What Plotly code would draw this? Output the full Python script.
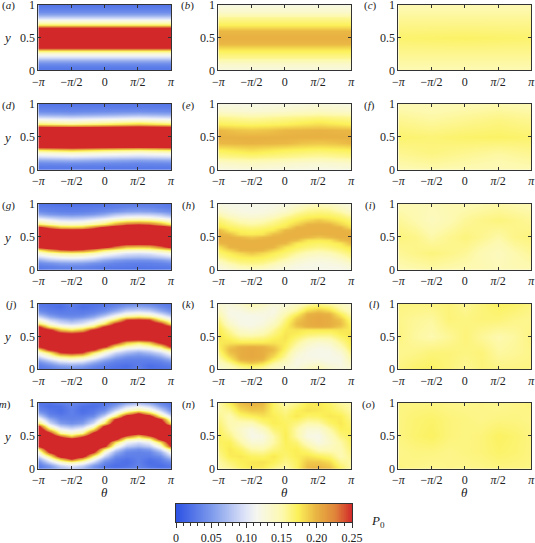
import numpy as np
import plotly.graph_objects as go

# --- Grids ---
THETA_13 = [k * np.pi / 6 for k in range(-6, 7)]
THETA_9 = [k * np.pi / 4 for k in range(-4, 5)]
THETA_3 = [-np.pi, 0, np.pi]
Y_21 = [k / 20 for k in range(21)]
Y_11 = [k / 10 for k in range(11)]
Y_5 = [0, 0.25, 0.5, 0.75, 1]

TICK_THETA = [-np.pi, -np.pi / 2, 0, np.pi / 2, np.pi]
TICK_THETA_TEXT = ['\u2212<i>\u03c0</i>', '\u2212<i>\u03c0</i>/2', '0', '<i>\u03c0</i>/2', '<i>\u03c0</i>']
TICK_Y = [0, 0.5, 1]
TICK_Y_TEXT = ['0', '0.5', '1']
BAR_TICKS = [0, 0.05, 0.10, 0.15, 0.20, 0.25]
BAR_TICK_TEXT = ['0', '0.05', '0.10', '0.15', '0.20', '0.25']

# --- P0 values, one list per theta column, y going up ---
P_A = [
    [.025,.03,.04,.06,.09,.125,.17,.26,.30,.31,.31,.31,.30,.26,.17,.125,.09,.06,.04,.03,.025],
    [.025,.03,.04,.06,.09,.125,.17,.26,.30,.31,.31,.31,.30,.26,.17,.125,.09,.06,.04,.03,.025],
    [.025,.03,.04,.06,.09,.125,.17,.26,.30,.31,.31,.31,.30,.26,.17,.125,.09,.06,.04,.03,.025],
]
P_D = [
    [.025,.03,.04,.06,.09,.125,.17,.26,.30,.31,.31,.31,.30,.26,.17,.125,.09,.06,.04,.03,.025],
    [.027,.03,.042,.066,.097,.132,.188,.268,.302,.31,.31,.31,.295,.25,.16,.118,.085,.055,.037,.03,.024],
    [.025,.03,.04,.06,.09,.125,.17,.26,.30,.31,.31,.31,.30,.26,.17,.125,.09,.06,.04,.03,.025],
    [.024,.03,.037,.055,.085,.118,.16,.25,.295,.31,.31,.31,.302,.268,.188,.132,.097,.066,.042,.03,.027],
    [.025,.03,.04,.06,.09,.125,.17,.26,.30,.31,.31,.31,.30,.26,.17,.125,.09,.06,.04,.03,.025],
]
P_G = [
    [.025,.03,.04,.06,.09,.125,.17,.26,.30,.31,.31,.31,.30,.26,.17,.125,.09,.06,.04,.03,.025],
    [.029,.033,.046,.076,.104,.145,.206,.284,.304,.31,.31,.306,.284,.224,.152,.112,.08,.05,.035,.029,.023],
    [.03,.037,.053,.083,.114,.157,.233,.288,.308,.31,.31,.303,.272,.193,.138,.1,.073,.045,.032,.028,.021],
    [.03,.038,.055,.085,.118,.161,.242,.292,.308,.31,.31,.304,.27,.188,.135,.097,.07,.043,.031,.027,.021],
    [.03,.037,.053,.083,.114,.157,.233,.288,.308,.31,.31,.303,.272,.193,.138,.1,.073,.045,.032,.028,.021],
    [.029,.033,.046,.076,.104,.145,.206,.284,.304,.31,.31,.306,.284,.224,.152,.112,.08,.05,.035,.029,.023],
    [.025,.03,.04,.06,.09,.125,.17,.26,.30,.31,.31,.31,.30,.26,.17,.125,.09,.06,.04,.03,.025],
    [.023,.029,.035,.05,.08,.112,.152,.224,.284,.306,.31,.31,.304,.284,.206,.145,.104,.076,.046,.033,.029],
    [.021,.028,.032,.045,.073,.1,.138,.193,.272,.303,.31,.31,.308,.288,.233,.157,.114,.083,.053,.037,.03],
    [.021,.027,.031,.043,.07,.097,.135,.188,.27,.304,.31,.31,.308,.292,.242,.161,.118,.085,.055,.038,.03],
    [.021,.028,.032,.045,.073,.1,.138,.193,.272,.303,.31,.31,.308,.288,.233,.157,.114,.083,.053,.037,.03],
    [.023,.029,.035,.05,.08,.112,.152,.224,.284,.306,.31,.31,.304,.284,.206,.145,.104,.076,.046,.033,.029],
    [.025,.03,.04,.06,.09,.125,.17,.26,.30,.31,.31,.31,.30,.26,.17,.125,.09,.06,.04,.03,.025],
]
P_J = [
    [.025,.03,.04,.06,.09,.125,.17,.26,.30,.31,.31,.31,.30,.26,.17,.125,.09,.06,.04,.03,.025],
    [.03,.04,.06,.09,.125,.17,.26,.30,.31,.31,.31,.30,.26,.17,.125,.09,.06,.04,.03,.025,.022],
    [.037,.054,.084,.116,.158,.245,.29,.31,.31,.31,.303,.27,.193,.138,.099,.072,.044,.032,.027,.02,.022],
    [.04,.06,.09,.125,.17,.26,.30,.31,.31,.31,.30,.26,.17,.125,.09,.06,.04,.032,.03,.03,.033],
    [.037,.054,.084,.116,.158,.245,.29,.31,.31,.31,.303,.27,.193,.138,.099,.072,.044,.032,.027,.02,.022],
    [.03,.04,.06,.09,.125,.17,.26,.30,.31,.31,.31,.30,.26,.17,.125,.09,.06,.04,.03,.025,.022],
    [.025,.03,.04,.06,.09,.125,.17,.26,.30,.31,.31,.31,.30,.26,.17,.125,.09,.06,.04,.03,.025],
    [.022,.025,.03,.04,.06,.09,.125,.17,.26,.30,.31,.31,.31,.30,.26,.17,.125,.09,.06,.04,.03],
    [.022,.02,.027,.032,.044,.072,.099,.138,.193,.27,.303,.31,.31,.31,.29,.245,.158,.116,.084,.054,.037],
    [.033,.03,.03,.032,.04,.06,.09,.125,.17,.26,.30,.31,.31,.31,.30,.26,.17,.125,.09,.06,.04],
    [.022,.02,.027,.032,.044,.072,.099,.138,.193,.27,.303,.31,.31,.31,.29,.245,.158,.116,.084,.054,.037],
    [.022,.025,.03,.04,.06,.09,.125,.17,.26,.30,.31,.31,.31,.30,.26,.17,.125,.09,.06,.04,.03],
    [.025,.03,.04,.06,.09,.125,.17,.26,.30,.31,.31,.31,.30,.26,.17,.125,.09,.06,.04,.03,.025],
]
P_M = [
    [.025,.03,.04,.06,.09,.125,.17,.26,.30,.31,.31,.31,.30,.26,.17,.125,.09,.06,.04,.03,.025],
    [.037,.055,.088,.12,.165,.255,.297,.31,.31,.31,.30,.264,.18,.128,.093,.065,.042,.03,.026,.02,.024],
    [.06,.092,.13,.19,.275,.305,.31,.31,.31,.29,.235,.157,.112,.083,.053,.037,.03,.023,.02,.022,.03],
    [.075,.108,.155,.245,.295,.31,.31,.31,.303,.27,.188,.135,.097,.07,.043,.034,.032,.032,.032,.034,.036],
    [.06,.092,.13,.19,.275,.305,.31,.31,.31,.29,.235,.157,.112,.083,.053,.037,.03,.023,.02,.022,.03],
    [.037,.055,.088,.12,.165,.255,.297,.31,.31,.31,.30,.264,.18,.128,.093,.065,.042,.03,.026,.02,.024],
    [.025,.03,.04,.06,.09,.125,.17,.26,.30,.31,.31,.31,.30,.26,.17,.125,.09,.06,.04,.03,.025],
    [.024,.02,.026,.03,.042,.065,.093,.128,.18,.264,.30,.31,.31,.31,.297,.255,.165,.12,.088,.055,.037],
    [.03,.022,.02,.023,.03,.037,.053,.083,.112,.157,.235,.29,.31,.31,.31,.305,.275,.19,.13,.092,.06],
    [.036,.034,.032,.032,.032,.034,.043,.07,.097,.135,.188,.27,.303,.31,.31,.31,.295,.245,.155,.108,.075],
    [.03,.022,.02,.023,.03,.037,.053,.083,.112,.157,.235,.29,.31,.31,.31,.305,.275,.19,.13,.092,.06],
    [.024,.02,.026,.03,.042,.065,.093,.128,.18,.264,.30,.31,.31,.31,.297,.255,.165,.12,.088,.055,.037],
    [.025,.03,.04,.06,.09,.125,.17,.26,.30,.31,.31,.31,.30,.26,.17,.125,.09,.06,.04,.03,.025],
]

P_B = [
    [.122,.135,.158,.172,.197,.2,.197,.172,.158,.135,.122],
    [.122,.135,.158,.172,.197,.2,.197,.172,.158,.135,.122],
    [.122,.135,.158,.172,.197,.2,.197,.172,.158,.135,.122],
]
P_E = [
    [.122,.135,.158,.172,.197,.2,.197,.172,.158,.135,.122],
    [.124,.138,.16,.176,.198,.2,.192,.17,.155,.132,.121],
    [.126,.14,.162,.18,.199,.2,.19,.168,.153,.13,.12],
    [.124,.138,.16,.176,.198,.2,.192,.17,.155,.132,.121],
    [.122,.135,.158,.172,.197,.2,.197,.172,.158,.135,.122],
    [.121,.132,.155,.17,.192,.2,.198,.176,.16,.138,.124],
    [.12,.13,.153,.168,.19,.2,.199,.18,.162,.14,.126],
    [.121,.132,.155,.17,.192,.2,.198,.176,.16,.138,.124],
    [.122,.135,.158,.172,.197,.2,.197,.172,.158,.135,.122],
]
P_H = [
    [.122,.128,.135,.147,.158,.165,.172,.178,.197,.2,.2,.2,.197,.178,.172,.165,.158,.147,.135,.128,.122],
    [.13,.138,.15,.16,.167,.174,.184,.198,.2,.2,.2,.194,.176,.17,.163,.155,.144,.133,.127,.121,.119],
    [.137,.149,.159,.166,.173,.182,.198,.2,.2,.2,.196,.177,.171,.164,.156,.145,.134,.127,.122,.119,.118],
    [.141,.152,.161,.168,.175,.19,.199,.2,.2,.199,.19,.175,.168,.161,.152,.141,.131,.125,.12,.118,.118],
    [.137,.149,.159,.166,.173,.182,.198,.2,.2,.2,.196,.177,.171,.164,.156,.145,.134,.127,.122,.119,.118],
    [.13,.138,.15,.16,.167,.174,.184,.198,.2,.2,.2,.194,.176,.17,.163,.155,.144,.133,.127,.121,.119],
    [.122,.128,.135,.147,.158,.165,.172,.178,.197,.2,.2,.2,.197,.178,.172,.165,.158,.147,.135,.128,.122],
    [.119,.121,.127,.133,.144,.155,.163,.17,.176,.194,.2,.2,.2,.198,.184,.174,.167,.16,.15,.138,.13],
    [.118,.119,.122,.127,.134,.145,.156,.164,.171,.177,.196,.2,.2,.2,.198,.182,.173,.166,.159,.149,.137],
    [.118,.118,.12,.125,.131,.141,.152,.161,.168,.175,.19,.199,.2,.2,.199,.19,.175,.168,.161,.152,.141],
    [.118,.119,.122,.127,.134,.145,.156,.164,.171,.177,.196,.2,.2,.2,.198,.182,.173,.166,.159,.149,.137],
    [.119,.121,.127,.133,.144,.155,.163,.17,.176,.194,.2,.2,.2,.198,.184,.174,.167,.16,.15,.138,.13],
    [.122,.128,.135,.147,.158,.165,.172,.178,.197,.2,.2,.2,.197,.178,.172,.165,.158,.147,.135,.128,.122],
]
P_K = [
    [.128,.134,.14,.148,.155,.162,.168,.172,.175,.177,.178,.177,.175,.172,.168,.162,.155,.148,.14,.134,.128],
    [.14,.148,.158,.172,.182,.192,.195,.19,.178,.174,.168,.162,.155,.146,.136,.128,.122,.12,.12,.122,.125],
    [.15,.165,.182,.198,.202,.202,.202,.2,.176,.165,.155,.145,.135,.126,.12,.118,.118,.118,.122,.128,.135],
    [.158,.172,.192,.202,.205,.205,.205,.202,.176,.165,.155,.142,.13,.122,.118,.118,.118,.122,.13,.14,.15],
    [.15,.165,.182,.198,.202,.202,.202,.2,.176,.167,.158,.148,.138,.13,.124,.12,.12,.122,.126,.133,.14],
    [.135,.146,.156,.17,.182,.19,.195,.19,.178,.174,.168,.162,.156,.148,.14,.132,.126,.122,.12,.122,.128],
    [.125,.132,.14,.148,.155,.162,.168,.172,.175,.177,.178,.177,.175,.172,.168,.162,.155,.148,.14,.132,.125],
    [.128,.122,.12,.122,.126,.132,.14,.148,.156,.162,.168,.174,.178,.19,.195,.19,.182,.17,.156,.146,.135],
    [.14,.133,.126,.122,.12,.12,.124,.13,.138,.148,.158,.167,.176,.2,.202,.202,.202,.198,.182,.165,.15],
    [.15,.14,.13,.122,.118,.118,.118,.122,.13,.142,.155,.165,.176,.202,.205,.205,.205,.202,.192,.172,.158],
    [.135,.128,.122,.118,.118,.118,.12,.126,.135,.145,.155,.165,.176,.2,.202,.202,.202,.198,.182,.165,.15],
    [.125,.122,.12,.12,.122,.128,.136,.146,.155,.162,.168,.174,.178,.19,.195,.192,.182,.172,.158,.148,.14],
    [.128,.134,.14,.148,.155,.162,.168,.172,.175,.177,.178,.177,.175,.172,.168,.162,.155,.148,.14,.134,.128],
]
P_N = [
    [.15,.152,.158,.165,.17,.172,.17,.165,.158,.152,.15],
    [.155,.164,.174,.176,.172,.162,.152,.148,.148,.158,.172],
    [.168,.172,.176,.168,.152,.14,.135,.145,.165,.182,.195],
    [.176,.176,.17,.152,.13,.118,.122,.145,.172,.19,.2],
    [.174,.178,.168,.15,.13,.122,.14,.162,.178,.19,.197],
    [.16,.172,.176,.162,.152,.152,.165,.174,.174,.17,.17],
    [.15,.16,.166,.17,.172,.174,.172,.17,.166,.16,.15],
    [.17,.17,.174,.174,.165,.152,.152,.162,.176,.172,.16],
    [.197,.19,.178,.162,.14,.122,.13,.15,.168,.178,.174],
    [.2,.19,.172,.145,.122,.118,.13,.152,.17,.176,.176],
    [.195,.182,.165,.145,.135,.14,.152,.168,.176,.172,.168],
    [.172,.158,.148,.148,.152,.162,.172,.176,.174,.164,.155],
    [.15,.152,.158,.165,.17,.172,.17,.165,.158,.152,.15],
]

P_C = [
    [.148,.158,.167,.158,.148],
    [.148,.158,.169,.158,.148],
    [.148,.158,.167,.158,.148],
]
P_F = [
    [.148,.158,.167,.158,.148],
    [.15,.162,.165,.154,.146],
    [.148,.158,.168,.158,.148],
    [.146,.154,.169,.162,.15],
    [.148,.158,.167,.158,.148],
]
P_I = [
    [.148,.156,.163,.156,.148],
    [.15,.16,.16,.15,.147],
    [.152,.163,.152,.142,.145],
    [.15,.16,.158,.148,.148],
    [.148,.156,.163,.156,.148],
    [.148,.148,.158,.16,.15],
    [.145,.142,.152,.163,.152],
    [.147,.15,.16,.16,.15],
    [.148,.156,.163,.156,.148],
]
P_L = [
    [.162,.158,.162,.16,.162],
    [.168,.16,.154,.156,.162],
    [.17,.164,.15,.154,.162],
    [.164,.164,.156,.164,.164],
    [.157,.162,.164,.162,.157],
    [.164,.164,.156,.164,.164],
    [.162,.154,.15,.164,.17],
    [.162,.156,.154,.16,.168],
    [.162,.16,.162,.158,.162],
]
P_O = [
    [.162,.16,.162,.162,.162],
    [.16,.162,.167,.166,.162],
    [.158,.162,.17,.168,.162],
    [.16,.16,.164,.164,.16],
    [.159,.162,.162,.162,.159],
    [.16,.164,.164,.16,.16],
    [.162,.168,.17,.162,.158],
    [.162,.166,.167,.162,.16],
    [.162,.162,.162,.16,.162],
]

# colours
COLORSCALE = [
    [0.00, '#2d52e4'],
    [0.20, '#7d9aec'],
    [0.40, '#e2e7f8'],
    [0.46, '#f6f7ee'],
    [0.60, '#fdf9b0'],
    [0.69, '#fcf159'],
    [0.80, '#e8b142'],
    [0.90, '#e0863a'],
    [1.00, '#d2282a'],
]
LINE = '#333333'
FONT = 'Liberation Serif, Times New Roman, Times, serif'

W, H = 535, 543
COLS = [(38.3, 171), (218.3, 351.3), (398.3, 531.3)]
ROWS = [4.7, 104, 204, 303.5, 403]
PANEL_H = 65.7

# letter, label x, theta grid, y grid, values
PANELS = [
    [('a', 8, THETA_3, Y_21, P_A), ('b', 187, THETA_3, Y_11, P_B), ('c', 370, THETA_3, Y_5, P_C)],
    [('d', 8, THETA_9[::2], Y_21, P_D), ('e', 188, THETA_9, Y_11, P_E), ('f', 369, THETA_9[::2], Y_5, P_F)],
    [('g', 8, THETA_13, Y_21, P_G), ('h', 188, THETA_13, Y_21, P_H), ('i', 370, THETA_9, Y_5, P_I)],
    [('j', 11, THETA_13, Y_21, P_J), ('k', 188, THETA_13, Y_21, P_K), ('l', 374, THETA_9, Y_5, P_L)],
    [('m', 3, THETA_13, Y_21, P_M), ('n', 188, THETA_13, Y_11, P_N), ('o', 368, THETA_9, Y_5, P_O)],
]


def axis_style(**kw):
    return dict(showline=True, linecolor=LINE, linewidth=1, mirror='ticks', ticks='inside',
                ticklen=3, tickwidth=0.8, tickcolor=LINE, showgrid=False, zeroline=False,
                automargin=False, ticklabeloverflow='allow',
                tickfont=dict(family=FONT, size=12, color='#222222'), **kw)


fig = go.Figure()
layout = {}
notes = []
n = 0
for r, row in enumerate(PANELS):
    for c, (letter, label_x, theta, y, vals) in enumerate(row):
        n += 1
        sfx = '' if n == 1 else str(n)
        fig.add_trace(go.Heatmap(x=theta, y=y, z=np.array(vals).T, coloraxis='coloraxis',
                                 zsmooth='best', xaxis='x' + sfx, yaxis='y' + sfx,
                                 hoverinfo='skip'))
        x0, x1 = COLS[c]
        top = ROWS[r]
        layout['xaxis' + sfx] = axis_style(domain=[x0 / W, x1 / W], range=[-np.pi, np.pi],
                                           anchor='y' + sfx, tickmode='array',
                                           tickvals=TICK_THETA, ticktext=TICK_THETA_TEXT)
        layout['yaxis' + sfx] = axis_style(domain=[1 - (top + PANEL_H) / H, 1 - top / H], range=[0, 1],
                                           anchor='x' + sfx, tickmode='array',
                                           tickvals=TICK_Y, ticktext=TICK_Y_TEXT)
        notes.append(dict(text=f'(<i>{letter}</i>)', x=label_x / W, y=1 - (top + 1) / H))
    notes.append(dict(text='<i>y</i>', x=6.5 / W, y=1 - (ROWS[r] + 33) / H, size=13))
for col in COLS:
    notes.append(dict(text='<i>\u03b8</i>', x=(col[0] + col[1]) / 2 / W, y=1 - 492 / H, size=13))
notes.append(dict(text='<i>P</i><sub>0</sub>', x=378 / W, y=1 - 521 / H, size=13))

# colour bar as its own strip
n += 1
BAR_LEVELS = np.linspace(0, 0.25, 251)
fig.add_trace(go.Heatmap(x=BAR_LEVELS, y=[0, 1], z=[BAR_LEVELS, BAR_LEVELS], coloraxis='coloraxis',
                         zsmooth='best', xaxis=f'x{n}', yaxis=f'y{n}', hoverinfo='skip'))
layout[f'xaxis{n}'] = dict(domain=[176 / W, 352 / W], range=[0, 0.25], anchor=f'y{n}', tickmode='array',
                           tickvals=BAR_TICKS, ticktext=BAR_TICK_TEXT, ticks='outside', ticklen=5,
                           tickwidth=0.8, tickcolor=LINE, showline=True, linecolor=LINE, linewidth=1,
                           mirror=True, showgrid=False, zeroline=False, automargin=False,
                           ticklabeloverflow='allow',
                           tickfont=dict(family=FONT, size=12, color='#222222'),
                           minor=dict(ticks='outside', ticklen=3, dtick=0.01, tick0=0,
                                      tickwidth=0.8, tickcolor=LINE))
layout[f'yaxis{n}'] = dict(domain=[1 - 522 / H, 1 - 504 / H], range=[0, 1], anchor=f'x{n}',
                           showticklabels=False, ticks='', showline=True, linecolor=LINE,
                           linewidth=1, mirror=True, showgrid=False, zeroline=False, automargin=False)

fig.update_layout(
    width=W, height=H, margin=dict(l=0, r=0, t=0, b=0), paper_bgcolor='white', plot_bgcolor='white',
    showlegend=False,
    coloraxis=dict(colorscale=COLORSCALE, cmin=0, cmax=0.25, showscale=False),
    annotations=[dict(text=a['text'], x=a['x'], y=a['y'], xref='paper', yref='paper',
                      xanchor='center', yanchor='middle', showarrow=False,
                      font=dict(family=FONT, size=a.get('size', 11), color='#222222')) for a in notes],
    **layout,
)
fig.write_html("out.html", config=dict(displayModeBar=False),
               post_script="document.body.style.margin='0';")
